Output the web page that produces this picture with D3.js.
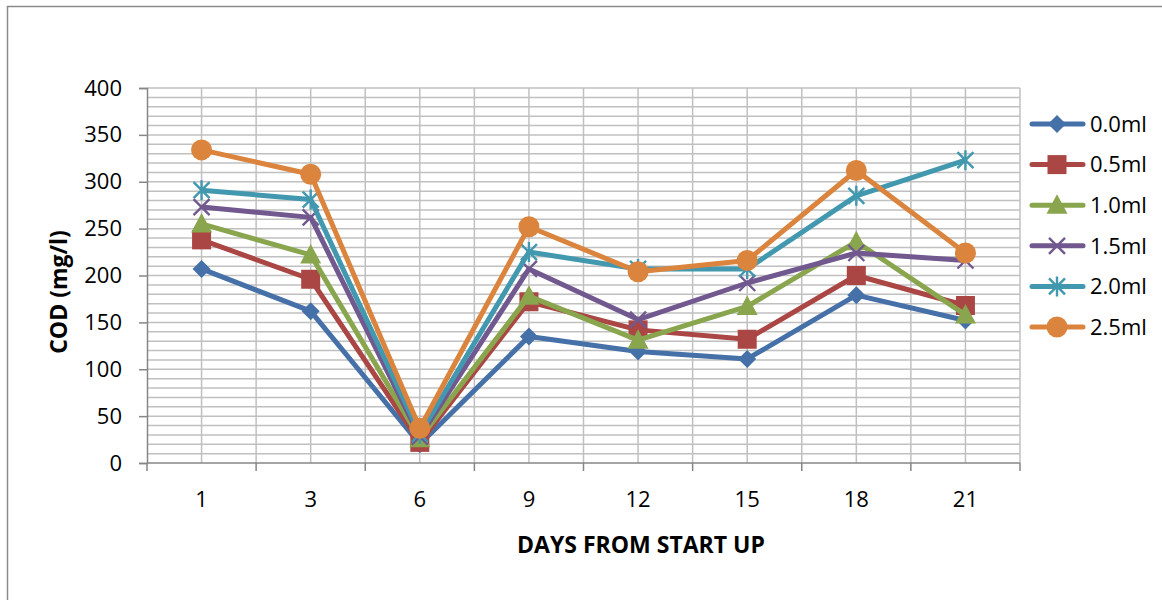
<!DOCTYPE html>
<html>
<head>
<meta charset="utf-8">
<script src="https://cdn.jsdelivr.net/npm/d3@7"></script>
<style>
  html, body { margin: 0; padding: 0; background: #fff; overflow: hidden; }
  svg { display: block; font-family: "Open Sans", "DejaVu Sans", sans-serif; }
</style>
</head>
<body>
<svg id="chart" width="1162" height="600"></svg>
<script>
// Sampling days (category axis)
const days = ["1", "3", "6", "9", "12", "15", "18", "21"];

// COD readings (mg/l) for each dose
const cod00 = [207, 162, 20, 135, 119, 111, 179, 152];
const cod05 = [238, 196, 22, 172, 142, 132, 200, 168];
const cod10 = [255, 222, 26, 178, 131, 167, 236, 158];
const cod15 = [273, 262, 28, 207, 153, 192, 224, 216];
const cod20 = [291, 281, 31, 225, 207, 207, 285, 323];
const cod25 = [334, 308, 37, 252, 204, 216, 312, 224];

const seriesNames = ["0.0ml", "0.5ml", "1.0ml", "1.5ml", "2.0ml", "2.5ml"];
const seriesValues = [cod00, cod05, cod10, cod15, cod20, cod25];
const seriesColors = ["#4571a8", "#aa4643", "#89a54e", "#71588f", "#4198af", "#db843d"];
const seriesMarkers = ["diamond", "square", "triangle", "cross", "star", "circle"];

const yTicks = [0, 50, 100, 150, 200, 250, 300, 350, 400];

const svg = d3.select("#chart");

// Plot area
const plotLeft = 147, plotRight = 1020, plotTop = 88, plotBottom = 463;
const x = d3.scaleBand().domain(days).range([plotLeft, plotRight]);
const y = d3.scaleLinear().domain([0, 400]).range([plotBottom, plotTop]);

// Outer chart frame (extends past the visible page)
svg.append("rect")
  .attr("x", 7.5).attr("y", 6.5)
  .attr("width", 1400).attr("height", 800)
  .attr("fill", "none").attr("stroke", "#8a8a8a").attr("stroke-width", 1.5);

// Gridlines: horizontal every 10 mg/l
const grid = svg.append("g").attr("stroke", "#c0c0c0").attr("stroke-width", 1.5);
grid.selectAll("line.h")
  .data(d3.range(10, 401, 10))
  .join("line")
  .attr("class", "h")
  .attr("x1", plotLeft).attr("x2", plotRight)
  .attr("y1", d => y(d)).attr("y2", d => y(d));

// Vertical gridlines at category centres and boundaries
const vpos = [];
days.forEach(d => { vpos.push(x(d)); vpos.push(x(d) + x.bandwidth() / 2); });
vpos.push(plotRight);
grid.selectAll("line.v")
  .data(vpos.filter(p => p > plotLeft))
  .join("line")
  .attr("class", "v")
  .attr("x1", d => d).attr("x2", d => d)
  .attr("y1", plotTop).attr("y2", plotBottom);

// Y axis
const yAxis = svg.append("g")
  .attr("transform", `translate(${plotLeft},0)`)
  .call(d3.axisLeft(y).tickValues(yTicks).tickSize(8).tickPadding(17));
yAxis.select(".domain").attr("stroke", "#868686").attr("stroke-width", 1.5);
yAxis.selectAll(".tick line").attr("stroke", "#868686").attr("stroke-width", 1.5);
yAxis.selectAll(".tick text")
  .attr("font-size", 22).attr("fill", "#000")
  .attr("font-family", "'Open Sans', sans-serif");

// X axis line and boundary tick marks
svg.append("line")
  .attr("x1", plotLeft).attr("x2", plotRight)
  .attr("y1", plotBottom).attr("y2", plotBottom)
  .attr("stroke", "#868686").attr("stroke-width", 1.5);
svg.append("g").selectAll("line")
  .data(days.map(d => x(d)).concat([plotRight]))
  .join("line")
  .attr("x1", d => d).attr("x2", d => d)
  .attr("y1", plotBottom).attr("y2", plotBottom + 8)
  .attr("stroke", "#868686").attr("stroke-width", 1.5);

// X tick labels
const xAxis = svg.append("g")
  .attr("transform", `translate(0,${plotBottom})`)
  .call(d3.axisBottom(x).tickSize(0).tickPadding(28));
xAxis.select(".domain").remove();
xAxis.selectAll(".tick text")
  .attr("font-size", 22).attr("fill", "#000")
  .attr("font-family", "'Open Sans', sans-serif");

// Axis titles
svg.append("text")
  .attr("x", 641).attr("y", 545).attr("dy", "0.35em")
  .attr("text-anchor", "middle")
  .attr("font-size", 23).attr("font-weight", "bold")
  .text("DAYS FROM START UP");

svg.append("text")
  .attr("transform", "translate(59,292) rotate(-90)")
  .attr("dy", "0.35em")
  .attr("text-anchor", "middle")
  .attr("font-size", 23).attr("font-weight", "bold")
  .text("COD (mg/l)");

// Marker drawing
function drawMarker(g, type, color) {
  if (type === "diamond") {
    g.append("path").attr("d", "M0,-9L9,0L0,9L-9,0Z").attr("fill", color);
  } else if (type === "square") {
    g.append("rect").attr("x", -9.5).attr("y", -9.5).attr("width", 19).attr("height", 19).attr("fill", color);
  } else if (type === "triangle") {
    g.append("path").attr("d", "M0,-11L10.5,8.5L-10.5,8.5Z").attr("fill", color);
  } else if (type === "cross") {
    g.append("path").attr("d", "M-8,-8L8,8M-8,8L8,-8")
      .attr("stroke", color).attr("stroke-width", 2.4).attr("fill", "none");
  } else if (type === "star") {
    g.append("path").attr("d", "M-8,-8L8,8M-8,8L8,-8M0,-10L0,10")
      .attr("stroke", color).attr("stroke-width", 2.4).attr("fill", "none");
  } else if (type === "circle") {
    g.append("circle").attr("r", 10.5).attr("fill", color);
  }
}

const cx = d => x(d) + x.bandwidth() / 2;
const line = d3.line().x(d => cx(d.day)).y(d => y(d.v));

// Series lines and markers
seriesValues.forEach((vals, i) => {
  const pts = days.map((d, j) => ({ day: d, v: vals[j] }));
  const g = svg.append("g");
  g.append("path")
    .datum(pts)
    .attr("d", line)
    .attr("fill", "none")
    .attr("stroke", seriesColors[i])
    .attr("stroke-width", 5)
    .attr("stroke-linejoin", "round");
  pts.forEach(p => {
    const m = g.append("g").attr("transform", `translate(${cx(p.day)},${y(p.v)})`);
    drawMarker(m, seriesMarkers[i], seriesColors[i]);
  });
});

// Legend
const legend = svg.append("g");
seriesNames.forEach((name, i) => {
  const ly = 124 + i * 40.6;
  const g = legend.append("g").attr("transform", `translate(0,${ly})`);
  g.append("line")
    .attr("x1", 1032).attr("x2", 1083)
    .attr("stroke", seriesColors[i]).attr("stroke-width", 5)
    .attr("stroke-linecap", "round");
  const m = g.append("g").attr("transform", "translate(1057,0)");
  drawMarker(m, seriesMarkers[i], seriesColors[i]);
  g.append("text")
    .attr("x", 1090).attr("dy", "0.35em")
    .attr("font-size", 22)
    .text(name);
});
</script>
</body>
</html>
